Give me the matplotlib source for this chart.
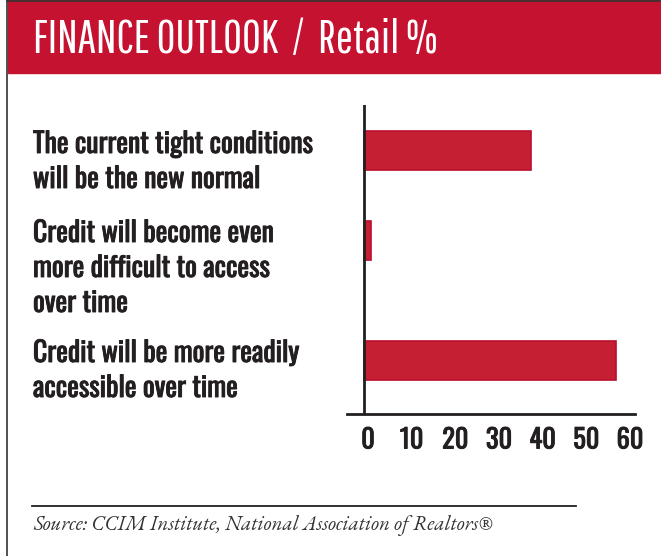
import numpy as np
import matplotlib
matplotlib.use("Agg")
import matplotlib.pyplot as plt
import matplotlib.patheffects as pe
from matplotlib.patches import Rectangle
from matplotlib.lines import Line2D
from matplotlib.transforms import ScaledTranslation

# Survey answers, share of retail respondents (%)
answers = [
    "The current tight conditions\nwill be the new normal",
    "Credit will become even\nmore difficult to access\nover time",
    "Credit will be more readily\naccessible over time",
]
shares = [38.2, 1.6, 57.7]
ticks = [0, 10, 20, 30, 40, 50, 60]

title = "FINANCE OUTLOOK  /  Retail %"
source = "Source: CCIM Institute, National Association of Realtors®"

RED = "#C41230"
BAR = "#C51F33"
INK = "#231F20"
TITLE_FONT = ["Pathway Gothic One", "DejaVu Sans"]
LABEL_FONT = ["Oswald", "Barlow Condensed", "DejaVu Sans"]
SOURCE_FONT = ["EB Garamond", "DejaVu Serif"]
# Oswald only ships a light regular here, so thicken it a little
heavy = [pe.withStroke(linewidth=0.65, foreground=INK)]

W, H = 661, 556
fig = plt.figure(figsize=(W / 100, H / 100), dpi=100)


def fx(px):
    return px / W


def fy(py):
    return 1 - py / H


# header band and frame
fig.patches.append(Rectangle((fx(8), fy(73)), fx(W - 8), 73 / H,
                             transform=fig.transFigure, color=RED, zorder=0))
fig.add_artist(Line2D([fx(7), fx(W)], [fy(0.5), fy(0.5)], color="#333333", lw=1.2))
fig.add_artist(Line2D([fx(7), fx(7)], [fy(0), fy(H)], color="#333333", lw=1.2))
fig.text(fx(33), fy(53), title, color="white", family=TITLE_FONT, fontsize=33,
         va="baseline", ha="left")

# bar positions follow the number of label lines, one blank line between groups
n_lines = [a.count("\n") + 1 for a in answers]
ypos = np.cumsum([0] + [n + 1 for n in n_lines[:-1]])

ax = fig.add_axes([fx(347), fy(414), (635 - 347) / W, (414 - 105) / H])
ax.barh(ypos, shares, height=1.3, color=BAR, edgecolor="#BC0E2D", lw=1.2, zorder=2)
ax.set_ylim(ypos[-1] + 1.783, -1.517)
ax.set_xlim(-3.893, 62.06)
ax.axvline(0, color=INK, lw=2, zorder=3)
for s in ["top", "right", "left"]:
    ax.spines[s].set_visible(False)
ax.spines["bottom"].set_color(INK)
ax.spines["bottom"].set_linewidth(2)
ax.set_yticks([])
ax.set_xticks(ticks)
ax.set_xticklabels([str(t) for t in ticks], family=LABEL_FONT, fontsize=19,
                   fontweight=400, color=INK)
ax.tick_params(axis="x", length=0, pad=9)
shift = ScaledTranslation(0.04, 0, fig.dpi_scale_trans)
for lab in ax.get_xticklabels():
    lab.set_transform(lab.get_transform() + shift)
    lab.set_path_effects(heavy)
ax.patch.set_visible(False)

# category labels on the left, one text per line
first_base = [153, 242, 362]
pitch = 35
for txt, yb in zip(answers, first_base):
    for i, line in enumerate(txt.split("\n")):
        fig.text(fx(33), fy(yb + i * pitch), line, family=LABEL_FONT, fontsize=20,
                 fontweight=400, color=INK, va="baseline", ha="left",
                 path_effects=heavy)

# source line
fig.add_artist(Line2D([fx(32), fx(576)], [fy(505.5), fy(505.5)], color=INK, lw=1.3))
fig.text(fx(33), fy(530), source, family=SOURCE_FONT, style="italic",
         fontsize=15, color="#333333", va="baseline", ha="left")

fig.savefig("out.png", dpi=100)
